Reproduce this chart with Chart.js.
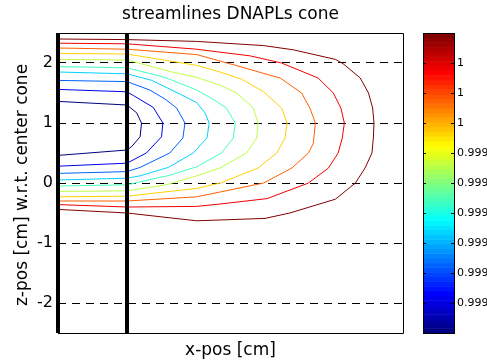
<!DOCTYPE html>
<html>
<head>
<meta charset="utf-8">
<script src="https://cdn.jsdelivr.net/npm/chart.js@4/dist/chart.umd.min.js"></script>
<style>
  html, body { margin: 0; padding: 0; background: #fff; }
  canvas { display: block; }
</style>
</head>
<body>
<canvas id="chart" width="487" height="362"></canvas>
<script>
// Stream function levels, one per streamline (lowest = innermost)
const streamLevels = [0.999900, 0.999911, 0.999922, 0.999933, 0.999944, 0.999956, 0.999967, 0.999978, 0.999989, 1.000000];

// Streamlines as [x-pos, z-pos] in cm, from inner to outer
const stream1 = [[0,1.36],[1,1.30],[1.14,1.17],[1.21,1.00],[1.19,0.77],[1.07,0.61],[1,0.55],[0,0.46]];
const stream2 = [[0,1.56],[1,1.52],[1.09,1.46],[1.38,1.26],[1.52,1.00],[1.50,0.77],[1.28,0.50],[1,0.33],[0,0.28]];
const stream3 = [[0,1.71],[1,1.69],[1.33,1.55],[1.55,1.40],[1.72,1.25],[1.84,1.00],[1.81,0.75],[1.62,0.50],[1.19,0.26],[1,0.19],[0,0.16]];
const stream4 = [[0,1.85],[1,1.82],[1.36,1.71],[1.77,1.48],[2.01,1.34],[2.13,1.17],[2.19,1.00],[2.16,0.75],[1.96,0.50],[1.60,0.26],[1.19,0.12],[1,0.08],[0,0.05]];
const stream5 = [[0,1.94],[1,1.92],[1.55,1.76],[2.01,1.55],[2.27,1.38],[2.44,1.25],[2.57,1.00],[2.54,0.75],[2.37,0.50],[2.01,0.27],[1.62,0.13],[1,-0.03],[0,-0.05]];
const stream6 = [[0,2.06],[1,2.05],[1.62,1.86],[2.01,1.76],[2.35,1.63],[2.59,1.50],[2.83,1.25],[2.90,1.00],[2.88,0.75],[2.73,0.50],[2.35,0.25],[2.01,0.12],[1.57,-0.03],[1,-0.13],[0,-0.14]];
const stream7 = [[0,2.16],[1,2.15],[2.01,1.96],[2.35,1.85],[2.66,1.73],[2.98,1.52],[3.24,1.25],[3.32,1.00],[3.29,0.75],[3.17,0.50],[2.90,0.25],[2.35,0.00],[2.01,-0.09],[1,-0.22],[0,-0.23]];
const stream8 = [[0,2.25],[1,2.23],[2.01,2.14],[2.64,1.94],[3.00,1.82],[3.22,1.75],[3.53,1.50],[3.65,1.25],[3.73,1.00],[3.70,0.66],[3.63,0.50],[3.39,0.25],[2.98,0.00],[2.35,-0.15],[2.01,-0.23],[1,-0.30],[0,-0.30]];
const stream9 = [[0,2.33],[1,2.32],[2.01,2.23],[2.35,2.18],[2.78,2.12],[3.24,2.00],[3.77,1.75],[3.99,1.50],[4.10,1.25],[4.15,1.00],[4.12,0.75],[4.06,0.50],[3.92,0.25],[3.63,0.00],[3.03,-0.26],[2.35,-0.35],[2.01,-0.39],[1,-0.40],[0,-0.36]];
const stream10 = [[0,2.40],[1,2.39],[2.01,2.36],[2.98,2.29],[3.41,2.22],[4.02,2.06],[4.13,1.99],[4.38,1.75],[4.50,1.50],[4.56,1.25],[4.58,1.00],[4.57,0.75],[4.55,0.50],[4.45,0.25],[4.31,0.00],[4.02,-0.27],[3.36,-0.50],[3.00,-0.59],[2.01,-0.63],[1,-0.50],[0,-0.44]];
const streamlines = [stream1, stream2, stream3, stream4, stream5, stream6, stream7, stream8, stream9, stream10];

// Cone walls (thick vertical lines) and axis ranges
const coneWallX = [0, 1];
const xRange = [0, 5];
const zRange = [-2.5, 2.5];
const zTicks = [-2, -1, 0, 1, 2];

// Colour bar ticks and their printed labels
const cbarTicks = [0.99999, 0.99998, 0.99997, 0.99996, 0.99995, 0.99994, 0.99993, 0.99992, 0.99991];
const cbarLabels = ['1', '1', '1', '0.9999', '0.9999', '0.9999', '0.9999', '0.9999', '0.9999'];

const cbMin = streamLevels[0];
const cbMax = streamLevels[streamLevels.length - 1];

// MATLAB-style "jet" colour map
function jet(t) {
  const c = v => Math.max(0, Math.min(1, v));
  const r = c(1.5 - Math.abs(4 * t - 3));
  const g = c(1.5 - Math.abs(4 * t - 2));
  const b = c(1.5 - Math.abs(4 * t - 1));
  return `rgb(${Math.round(r * 255)},${Math.round(g * 255)},${Math.round(b * 255)})`;
}

const FONT = '"DejaVu Sans", sans-serif';

const coneSets = coneWallX.map(x => ({
  data: zRange.map(y => ({ x, y })),
  borderColor: '#000',
  borderWidth: 4,
  pointRadius: 0,
  clip: false,
  order: 0
}));

const streamSets = streamlines.map((pts, i) => ({
  data: pts.map(([x, y]) => ({ x, y })),
  borderColor: jet((streamLevels[i] - cbMin) / (cbMax - cbMin)),
  borderWidth: 1,
  pointRadius: 0,
  tension: 0,
  fill: false,
  order: 1
}));

// Frame, colour bar, title and axis labels
const decorations = {
  id: 'decorations',
  afterDatasetsDraw(chart) {
    const { ctx, chartArea: a } = chart;
    ctx.save();
    ctx.strokeStyle = '#000';
    ctx.lineWidth = 1;
    ctx.beginPath();
    ctx.moveTo(Math.round(a.left), Math.round(a.top) + 0.5);
    ctx.lineTo(Math.round(a.right) + 0.5, Math.round(a.top) + 0.5);
    ctx.lineTo(Math.round(a.right) + 0.5, Math.round(a.bottom) + 0.5);
    ctx.lineTo(Math.round(a.left), Math.round(a.bottom) + 0.5);
    ctx.stroke();
    ctx.restore();
  },
  afterDraw(chart) {
    const { ctx, chartArea: a, scales } = chart;
    const cb = scales.cbar;
    ctx.save();

    // colour bar: 64 bands of the jet map
    const x0 = Math.round(a.right) + 20;
    const w = 31;
    const n = 64;
    for (let i = 0; i < n; i++) {
      const v0 = cbMin + (cbMax - cbMin) * i / n;
      const v1 = cbMin + (cbMax - cbMin) * (i + 1) / n;
      const yb = cb.getPixelForValue(v0);
      const yt = cb.getPixelForValue(v1);
      ctx.fillStyle = jet(i / (n - 1));
      ctx.fillRect(x0, yt, w, yb - yt + 0.5);
    }
    const top = cb.getPixelForValue(cbMax);
    const bottom = cb.getPixelForValue(cbMin);
    ctx.strokeStyle = '#000';
    ctx.lineWidth = 1;
    ctx.strokeRect(x0 + 0.5, Math.round(top) + 0.5, w, Math.round(bottom - top));

    ctx.fillStyle = '#000';
    ctx.font = '11px ' + FONT;
    ctx.textAlign = 'left';
    ctx.textBaseline = 'middle';
    cbarTicks.forEach((v, i) => {
      const y = Math.round(cb.getPixelForValue(v)) + 0.5;
      ctx.beginPath();
      ctx.moveTo(x0, y); ctx.lineTo(x0 + 3, y);
      ctx.moveTo(x0 + w - 3, y); ctx.lineTo(x0 + w + 1, y);
      ctx.stroke();
      ctx.fillText(cbarLabels[i], x0 + w + 3, y);
    });

    // title and axis labels
    const cx = (a.left + a.right) / 2;
    ctx.font = '17px ' + FONT;
    ctx.textAlign = 'center';
    ctx.textBaseline = 'alphabetic';
    ctx.fillText('streamlines DNAPLs cone', cx, 19);
    ctx.fillText('x-pos [cm]', cx, 355);

    ctx.translate(22.5, (a.top + a.bottom) / 2 + 2);
    ctx.rotate(-Math.PI / 2);
    ctx.textBaseline = 'middle';
    ctx.fillText('z-pos [cm] w.r.t. center cone', 0, 0);
    ctx.restore();
  }
};

new Chart(document.getElementById('chart'), {
  type: 'line',
  data: { datasets: [...coneSets, ...streamSets] },
  options: {
    responsive: false,
    animation: false,
    devicePixelRatio: 1,
    layout: { padding: { top: 33, right: 84, bottom: 0, left: 0 } },
    plugins: {
      legend: { display: false },
      tooltip: { enabled: false },
      title: { display: false }
    },
    scales: {
      x: {
        type: 'linear',
        min: xRange[0],
        max: xRange[1],
        ticks: { display: false },
        grid: { display: false },
        border: { display: false },
        afterFit(s) { s.height = 29; }
      },
      y: {
        type: 'linear',
        min: zRange[0],
        max: zRange[1],
        afterBuildTicks(s) { s.ticks = zTicks.map(v => ({ value: v })); },
        ticks: { color: '#000', padding: 5, font: { family: FONT, size: 16 } },
        grid: { color: '#000', lineWidth: 1, drawTicks: false, borderDash: [8, 6] },
        border: { display: false, dash: [8, 6] },
        afterFit(s) { s.width = 58; }
      },
      cbar: {
        type: 'linear',
        axis: 'y',
        position: 'right',
        display: false,
        min: cbMin,
        max: cbMax
      }
    }
  },
  plugins: [decorations]
});
</script>
</body>
</html>
